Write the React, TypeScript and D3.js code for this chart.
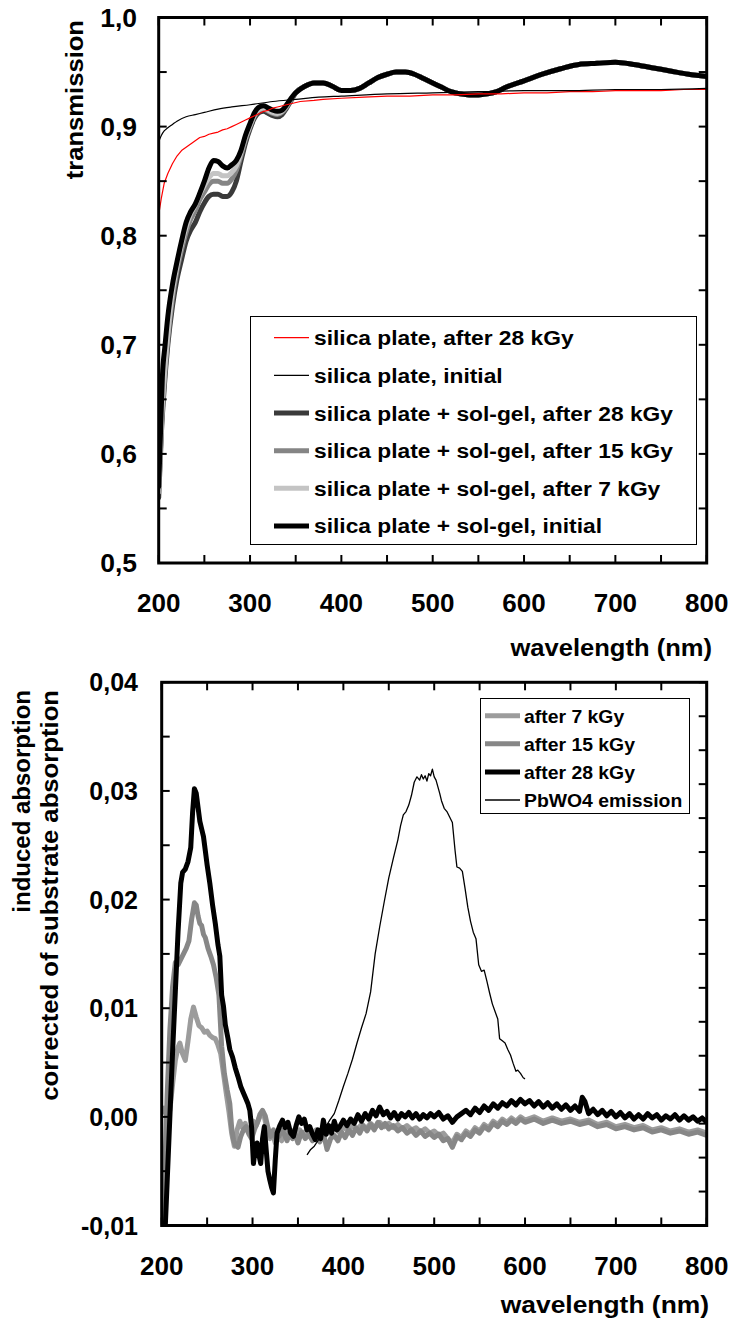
import React from 'react';
import * as d3 from 'd3';

// ---- top chart: transmission spectra (nm, transmission) ----
const silicaIrradiated: [number, number][] = [
  [200, 0.819], [203, 0.835], [206, 0.848], [210, 0.857], [215, 0.866], [220, 0.873], [225, 0.878],
  [230, 0.881], [235, 0.884], [240, 0.887], [245, 0.890], [250, 0.891], [255, 0.893], [260, 0.894],
  [265, 0.895], [270, 0.897], [275, 0.898], [280, 0.900], [285, 0.902], [290, 0.904], [295, 0.906],
  [300, 0.908], [305, 0.910], [310, 0.912], [315, 0.914], [320, 0.915], [325, 0.917], [330, 0.918],
  [340, 0.920], [355, 0.923], [370, 0.924], [380, 0.925], [400, 0.926], [425, 0.927], [450, 0.928],
  [475, 0.928], [500, 0.929], [525, 0.929], [550, 0.930], [575, 0.930], [600, 0.931], [625, 0.931],
  [650, 0.932], [675, 0.932], [700, 0.933], [725, 0.933], [750, 0.933], [775, 0.934], [800, 0.934],
];
const silicaInitial: [number, number][] = [
  [200, 0.886], [203, 0.892], [206, 0.896], [210, 0.899], [215, 0.902], [220, 0.905], [230, 0.909],
  [240, 0.911], [250, 0.913], [265, 0.916], [280, 0.918], [300, 0.920], [325, 0.923], [350, 0.925],
  [375, 0.927], [400, 0.928], [450, 0.930], [500, 0.931], [550, 0.932], [600, 0.933], [650, 0.933],
  [700, 0.934], [750, 0.934], [800, 0.935],
];
// coated plates, UV part (they differ below ~350 nm)
const coatedInitialUV: [number, number][] = [
  [200, 0.57], [202, 0.62], [204, 0.67], [207, 0.70], [210, 0.726], [215, 0.755], [220, 0.776],
  [225, 0.795], [230, 0.812], [235, 0.822], [240, 0.829], [245, 0.839], [250, 0.850], [255, 0.862],
  [260, 0.869], [265, 0.868], [270, 0.864], [275, 0.862], [280, 0.865], [285, 0.869], [290, 0.878],
  [295, 0.892], [300, 0.903], [305, 0.913], [310, 0.918], [315, 0.919], [320, 0.917], [325, 0.915],
  [330, 0.914], [335, 0.915], [340, 0.920], [345, 0.926],
];
const coated7UV: [number, number][] = [
  [200, 0.565], [203, 0.63], [206, 0.67], [210, 0.71], [215, 0.748], [220, 0.772], [225, 0.792],
  [230, 0.808], [235, 0.820], [240, 0.828], [245, 0.838], [250, 0.846], [255, 0.853], [260, 0.857],
  [265, 0.857], [270, 0.855], [275, 0.855], [280, 0.858], [285, 0.864], [290, 0.876], [295, 0.890],
  [300, 0.901], [305, 0.911], [310, 0.916], [315, 0.917], [320, 0.915], [325, 0.913], [330, 0.912],
  [335, 0.914], [340, 0.919], [345, 0.926],
];
const coated15UV: [number, number][] = [
  [200, 0.565], [203, 0.625], [206, 0.665], [210, 0.705], [215, 0.742], [220, 0.768], [225, 0.787],
  [230, 0.803], [235, 0.815], [240, 0.823], [245, 0.833], [250, 0.840], [255, 0.847], [260, 0.850],
  [265, 0.850], [270, 0.848], [275, 0.848], [280, 0.852], [285, 0.860], [290, 0.873], [295, 0.888],
  [300, 0.900], [305, 0.910], [310, 0.915], [315, 0.916], [320, 0.914], [325, 0.912], [330, 0.911],
  [335, 0.913], [340, 0.918], [345, 0.925],
];
const coated28UV: [number, number][] = [
  [200, 0.56], [203, 0.62], [206, 0.66], [210, 0.70], [215, 0.735], [220, 0.760], [225, 0.778],
  [230, 0.795], [235, 0.805], [240, 0.812], [245, 0.822], [250, 0.830], [255, 0.836], [260, 0.838],
  [265, 0.838], [270, 0.836], [275, 0.836], [280, 0.840], [285, 0.850], [290, 0.868], [295, 0.885],
  [300, 0.898], [305, 0.908], [310, 0.913], [315, 0.914], [320, 0.912], [325, 0.910], [330, 0.909],
  [335, 0.911], [340, 0.917], [345, 0.924],
];
// all four coated curves overlap above 350 nm
const coatedVisible: [number, number][] = [
  [350, 0.931], [360, 0.937], [370, 0.940], [380, 0.940], [390, 0.937], [400, 0.933], [410, 0.933],
  [420, 0.935], [430, 0.940], [440, 0.945], [450, 0.948], [460, 0.950], [470, 0.950], [480, 0.948],
  [490, 0.944], [500, 0.940], [510, 0.936], [520, 0.932], [530, 0.930], [540, 0.929], [550, 0.929],
  [560, 0.930], [570, 0.932], [580, 0.936], [600, 0.942], [620, 0.948], [640, 0.953], [660, 0.957],
  [680, 0.958], [700, 0.959], [720, 0.957], [740, 0.954], [760, 0.951], [780, 0.948], [800, 0.946],
];

const topLegend = [
  'silica plate, after 28 kGy',
  'silica plate, initial',
  'silica plate + sol-gel, after 28 kGy',
  'silica plate + sol-gel, after 15 kGy',
  'silica plate + sol-gel, after 7 kGy',
  'silica plate + sol-gel, initial',
];

// ---- bottom chart: induced absorption (nm, absorbance) ----
const after7: [number, number][] = [
  [200, 0.0003], [203, 0.0008], [206, 0.0], [209, 0.0006], [212, 0.003], [215, 0.0052], [218, 0.0064],
  [220, 0.0068], [223, 0.0058], [226, 0.0052], [229, 0.007], [232, 0.009], [235, 0.0101], [238, 0.0092],
  [241, 0.0084], [244, 0.0082], [247, 0.0078], [250, 0.0079], [253, 0.0075], [256, 0.0073], [259, 0.0072],
  [262, 0.0066], [265, 0.0058], [268, 0.004], [271, 0.0022], [274, 0.0005], [277, -0.0015], [280, -0.0027],
  [283, -0.0012], [286, -0.0004], [289, -0.001], [292, -0.0006], [295, -0.0014], [298, -0.001],
  [301, -0.0004], [304, -0.0008], [307, -0.0002], [310, 0.0004], [313, 0.0], [316, -0.0012], [319, -0.002],
  [322, -0.0015], [325, -0.0024], [328, -0.0018], [332, -0.0022], [336, -0.0014], [340, -0.0019],
  [344, -0.0013], [348, -0.0018], [352, -0.0012], [356, -0.0017], [360, -0.0011], [365, -0.0016],
  [370, -0.0012], [375, -0.0017], [380, -0.0011], [385, -0.0015], [390, -0.001], [395, -0.0014],
  [400, -0.0009], [405, -0.0013], [410, -0.0008], [415, -0.0012], [420, -0.0007], [425, -0.0011],
  [430, -0.0006], [435, -0.001], [440, -0.0005], [445, -0.0009], [450, -0.0006], [455, -0.001],
  [460, -0.0007], [465, -0.0011], [470, -0.0008], [475, -0.0012], [480, -0.001], [485, -0.0014],
  [490, -0.0011], [495, -0.0015], [500, -0.0013], [505, -0.0017], [510, -0.0015], [515, -0.002],
  [520, -0.0024], [525, -0.0016], [530, -0.0019], [535, -0.0013], [540, -0.0016], [545, -0.001],
  [550, -0.0013], [555, -0.0007], [560, -0.001], [565, -0.0004], [570, -0.0007], [575, -0.0002],
  [580, -0.0005], [585, -0.0001], [590, -0.0004], [595, 0.0], [600, -0.0003], [610, 0.0], [620, -0.0004],
  [630, -0.0001], [640, -0.0004], [650, -0.0002], [660, -0.0005], [670, -0.0003], [680, -0.0007],
  [690, -0.0005], [700, -0.0009], [710, -0.0007], [720, -0.001], [730, -0.0008], [740, -0.0012],
  [750, -0.001], [760, -0.0013], [770, -0.0011], [780, -0.0014], [790, -0.0012], [800, -0.0015],
];
const after15: [number, number][] = [
  [200, -0.013], [203, -0.006], [206, 0.002], [209, 0.008], [212, 0.012], [215, 0.0142], [218, 0.014],
  [221, 0.0145], [224, 0.015], [227, 0.0155], [230, 0.0162], [233, 0.0182], [236, 0.0197], [238, 0.0195],
  [240, 0.0185], [242, 0.0178], [244, 0.0176], [246, 0.0168], [248, 0.0165], [251, 0.0155], [254, 0.0148],
  [257, 0.014], [260, 0.0128], [263, 0.0112], [266, 0.0065], [269, 0.004], [272, 0.0025], [275, 0.0012],
  [277, -0.001], [279, -0.0021], [281, -0.0026], [284, -0.0028], [287, -0.0018], [290, -0.0012],
  [293, -0.0009], [296, -0.0016], [299, -0.002], [302, -0.0012], [305, -0.0006], [308, 0.0002],
  [311, 0.0006], [314, 0.0001], [317, -0.001], [320, -0.0018], [323, -0.0012], [326, -0.002],
  [329, -0.0018], [332, -0.0012], [335, -0.0016], [338, -0.0022], [341, -0.0014], [344, -0.002],
  [347, -0.0016], [350, -0.0024], [354, -0.0014], [358, -0.002], [362, -0.0016], [366, -0.0022],
  [370, -0.0018], [374, -0.0023], [378, -0.0015], [382, -0.003], [386, -0.002], [390, -0.0017],
  [394, -0.0022], [398, -0.0014], [402, -0.0019], [406, -0.0012], [410, -0.0017], [414, -0.001],
  [418, -0.0015], [422, -0.0008], [426, -0.0013], [430, -0.0007], [434, -0.0012], [438, -0.0005],
  [442, -0.001], [446, -0.0006], [450, -0.0011], [455, -0.0008], [460, -0.0013], [465, -0.001],
  [470, -0.0015], [475, -0.0012], [480, -0.0017], [485, -0.0013], [490, -0.0018], [495, -0.0015],
  [500, -0.0019], [505, -0.0016], [510, -0.0022], [515, -0.002], [520, -0.0028], [525, -0.0018],
  [530, -0.0021], [535, -0.0015], [540, -0.0018], [545, -0.0012], [550, -0.0015], [555, -0.0009],
  [560, -0.0012], [565, -0.0006], [570, -0.0009], [575, -0.0004], [580, -0.0007], [585, -0.0003],
  [590, -0.0006], [595, -0.0002], [600, -0.0005], [610, -0.0002], [620, -0.0006], [630, -0.0003],
  [640, -0.0006], [650, -0.0004], [660, -0.0007], [670, -0.0005], [680, -0.0009], [690, -0.0007],
  [700, -0.0011], [710, -0.0009], [720, -0.0012], [730, -0.001], [740, -0.0014], [750, -0.0012],
  [760, -0.0015], [770, -0.0013], [780, -0.0016], [790, -0.0014], [800, -0.0017],
];
const after28: [number, number][] = [
  [200, -0.0125], [204, -0.01], [208, -0.002], [212, 0.006], [215, 0.0115], [218, 0.017], [221, 0.0215],
  [223, 0.0225], [226, 0.0228], [229, 0.0235], [232, 0.0248], [234, 0.028], [236, 0.0302], [238, 0.0298],
  [240, 0.0285], [242, 0.0272], [244, 0.0265], [246, 0.0258], [248, 0.0245], [250, 0.0232], [253, 0.0215],
  [256, 0.0195], [259, 0.0178], [262, 0.0158], [264, 0.0148], [266, 0.0112], [268, 0.0102], [270, 0.0085],
  [273, 0.0072], [275, 0.0062], [278, 0.0055], [281, 0.0045], [284, 0.0037], [287, 0.0028], [290, 0.0022],
  [292, 0.0018], [295, 0.0012], [297, 0.0006], [299, -0.001], [301, -0.0043], [303, -0.003],
  [305, -0.0024], [307, -0.0035], [309, -0.0043], [311, -0.002], [313, -0.0009], [315, -0.003],
  [317, -0.005], [319, -0.0058], [321, -0.0065], [323, -0.007], [325, -0.004], [327, -0.0015],
  [330, -0.0008], [333, -0.0003], [336, -0.001], [339, -0.0005], [342, -0.0015], [345, -0.0018],
  [348, -0.0008], [351, 0.0], [354, -0.0006], [357, -0.0002], [360, -0.0012], [363, -0.0009],
  [366, -0.0016], [369, -0.0021], [372, -0.0012], [375, -0.002], [378, -0.0003], [381, -0.0016],
  [384, -0.0008], [387, -0.0015], [390, -0.0004], [393, -0.0012], [396, -0.0009], [400, -0.0003],
  [404, -0.0008], [408, -0.0002], [412, -0.0006], [416, 0.0002], [420, -0.0004], [424, 0.0003],
  [428, -0.0002], [432, 0.0006], [436, 0.0001], [440, 0.0009], [444, 0.0002], [448, 0.0005],
  [452, -0.0001], [456, 0.0004], [460, -0.0002], [464, 0.0003], [468, 0.0], [472, 0.0004],
  [476, -0.0001], [480, 0.0003], [484, -0.0002], [488, 0.0002], [492, -0.0001], [496, 0.0003],
  [500, 0.0], [505, 0.0004], [510, -0.0002], [515, 0.0001], [520, -0.0005], [525, 0.0], [530, 0.0003],
  [535, 0.0006], [540, 0.0002], [545, 0.0008], [550, 0.0004], [555, 0.001], [560, 0.0006], [565, 0.0012],
  [570, 0.0008], [575, 0.0013], [580, 0.001], [585, 0.0015], [590, 0.0011], [595, 0.0016], [600, 0.0012],
  [605, 0.0015], [610, 0.001], [615, 0.0014], [620, 0.0009], [625, 0.0013], [630, 0.0008], [635, 0.0012],
  [640, 0.0007], [645, 0.0011], [650, 0.0006], [655, 0.001], [660, 0.0005], [663, 0.0018], [666, 0.0014],
  [670, 0.0003], [675, 0.0007], [680, 0.0002], [685, 0.0006], [690, 0.0001], [695, 0.0005], [700, 0.0],
  [705, 0.0004], [710, -0.0001], [715, 0.0003], [720, -0.0002], [725, 0.0002], [730, -0.0002],
  [735, 0.0003], [740, -0.0001], [745, 0.0002], [750, -0.0003], [755, 0.0001], [760, -0.0002],
  [765, 0.0002], [770, -0.0003], [775, 0.0001], [780, -0.0003], [785, 0.0], [790, -0.0004],
  [795, -0.0001], [800, -0.0005],
];
const pbwo4Emission: [number, number][] = [
  [360, -0.0035], [364, -0.003], [368, -0.0027], [372, -0.0022], [376, -0.0016], [380, -0.001],
  [385, -0.0003], [390, 0.0003], [395, 0.0015], [400, 0.0028], [405, 0.004], [410, 0.0053], [415, 0.0068],
  [420, 0.0082], [425, 0.0095], [430, 0.0115], [435, 0.015], [440, 0.0175], [445, 0.0198], [450, 0.022],
  [455, 0.0238], [460, 0.0255], [463, 0.0268], [466, 0.0278], [469, 0.0281], [472, 0.0287], [475, 0.0296],
  [478, 0.0308], [481, 0.0313], [484, 0.031], [486, 0.0315], [488, 0.0311], [490, 0.0314], [492, 0.0309],
  [494, 0.0316], [496, 0.0314], [498, 0.032], [500, 0.0313], [502, 0.031], [504, 0.0304], [506, 0.0298],
  [508, 0.0291], [511, 0.0284], [514, 0.0281], [517, 0.0276], [520, 0.0271], [523, 0.0245], [525, 0.023],
  [528, 0.0229], [531, 0.0226], [534, 0.021], [537, 0.0193], [540, 0.018], [543, 0.017], [546, 0.0164],
  [549, 0.014], [552, 0.0134], [555, 0.0135], [558, 0.0125], [561, 0.0114], [564, 0.0104], [567, 0.0097],
  [570, 0.009], [572, 0.0072], [575, 0.007], [578, 0.0068], [581, 0.0062], [584, 0.0057], [587, 0.0049],
  [590, 0.0042], [592, 0.0043], [595, 0.004], [598, 0.0036], [600, 0.0035],
];
const bottomLegend = ['after 7 kGy', 'after 15 kGy', 'after 28 kGy', 'PbWO4 emission'];

const FONT = 'Arial, "Liberation Sans", sans-serif';
const comma = (f: string) => (v: number) => d3.format(f)(v).replace('.', ',').replace('\u2212', '-');

type Scale = d3.ScaleLinear<number, number>;

// bold label, optionally rotated, stretched a bit along the text direction (source font runs wide)
function Label({ x, y, size, sx = 1, rotate = 0, anchor = 'start', children }: {
  x: number; y: number; size: number; sx?: number; rotate?: number; anchor?: string; children: React.ReactNode;
}) {
  return (
    <text
      transform={`translate(${x},${y}) rotate(${rotate}) scale(${sx},1)`}
      textAnchor={anchor}
      fontSize={size}
      fontWeight="bold"
      fontFamily={FONT}
    >
      {children}
    </text>
  );
}

function Frame({ x, y, yLabelFmt, rightTicks, labelX, ySx }: {
  x: Scale; y: Scale; yLabelFmt: (v: number) => string; rightTicks: number[]; labelX: number; ySx: number;
}) {
  const [x0, x1] = x.range();
  const [y0, y1] = y.range(); // y0 bottom, y1 top
  const tl = 8;
  return (
    <g>
      {x.ticks(12).map((t) => (
        <g key={'xt' + t} stroke="#000" strokeWidth={2}>
          <line x1={x(t)} x2={x(t)} y1={y1} y2={y1 + tl} />
          <line x1={x(t)} x2={x(t)} y1={y0} y2={y0 - tl} />
        </g>
      ))}
      {y.ticks(10).map((t) => (
        <line key={'yt' + t} x1={x0} x2={x0 + tl} y1={y(t)} y2={y(t)} stroke="#000" strokeWidth={2} />
      ))}
      {rightTicks.map((py, i) => (
        <line key={'rt' + i} x1={x1} x2={x1 - tl} y1={py} y2={py} stroke="#000" strokeWidth={2} />
      ))}
      <rect x={x0} y={y1} width={x1 - x0} height={y0 - y1} fill="none" stroke="#000" strokeWidth={3} />
      {x.ticks(6).map((t) => (
        <Label key={'xl' + t} x={x(t)} y={y0 + 49} size={25} sx={1.04} anchor="middle">
          {t}
        </Label>
      ))}
      {y.ticks(5).map((t) => (
        <Label key={'yl' + t} x={labelX} y={y(t) + 9} size={25} sx={ySx} anchor="end">
          {yLabelFmt(t)}
        </Label>
      ))}
    </g>
  );
}

export default function App() {
  // top panel
  const xT = d3.scaleLinear().domain([200, 800]).range([158.7, 706.7]);
  const yT = d3.scaleLinear().domain([0.5, 1.0]).range([563, 17.5]);
  const smooth = d3.line<[number, number]>().x((d) => xT(d[0])).y((d) => yT(d[1])).curve(d3.curveMonotoneX);
  const straightT = d3.line<[number, number]>().x((d) => xT(d[0])).y((d) => yT(d[1]));

  const coated = [
    { name: topLegend[2], data: coated28UV.concat(coatedVisible), color: '#3a3a3a' },
    { name: topLegend[3], data: coated15UV.concat(coatedVisible), color: '#858585' },
    { name: topLegend[4], data: coated7UV.concat(coatedVisible), color: '#c4c4c4' },
    { name: topLegend[5], data: coatedInitialUV.concat(coatedVisible), color: '#000' },
  ];
  const topKeys = [
    { color: '#ff0000', w: 1.2 },
    { color: '#000', w: 1.2 },
    { color: '#3a3a3a', w: 5 },
    { color: '#858585', w: 5 },
    { color: '#c4c4c4', w: 5 },
    { color: '#000', w: 5 },
  ];

  // bottom panel
  const xB = d3.scaleLinear().domain([200, 800]).range([161.7, 706.7]);
  const yB = d3.scaleLinear().domain([-0.01, 0.04]).range([1225.5, 682.3]);
  const rightB = d3.scaleLinear().domain([0, 16]).range([1225.5, 682.3]);
  const lineB = d3.line<[number, number]>().x((d) => xB(d[0])).y((d) => yB(d[1]));
  const absSeries = [
    { data: after7, color: '#9c9c9c', w: 5 },
    { data: after15, color: '#878787', w: 5 },
    { data: after28, color: '#000', w: 5 },
    { data: pbwo4Emission, color: '#000', w: 1.3 },
  ];

  return (
    <svg width={731} height={1323} style={{ position: 'absolute', left: 0, top: 0, background: '#fff' }}>
      <defs>
        <clipPath id="clipTop">
          <rect x={158.7} y={17.5} width={548} height={545.5} />
        </clipPath>
        <clipPath id="clipBottom">
          <rect x={161.7} y={682.3} width={545} height={543.2} />
        </clipPath>
      </defs>

      {/* ---------- top chart ---------- */}
      <g clipPath="url(#clipTop)" fill="none" strokeLinejoin="round" strokeLinecap="round">
        {coated.map((s) => (
          <path key={s.name} d={smooth(s.data) || ''} stroke={s.color} strokeWidth={5} />
        ))}
        <path d={straightT(silicaIrradiated) || ''} stroke="#ff0000" strokeWidth={1.2} />
        <path d={smooth(silicaInitial) || ''} stroke="#000" strokeWidth={1.2} />
      </g>
      <Frame x={xT} y={yT} yLabelFmt={comma('.1f')} rightTicks={yT.ticks(10).map((t) => yT(t))} labelX={137} ySx={1.06} />
      <Label x={83} y={20} size={24} sx={1.067} rotate={-90} anchor="end">transmission</Label>
      <Label x={712} y={656} size={24} sx={1.065} anchor="end">wavelength (nm)</Label>
      <rect x={250.5} y={316.5} width={446} height={228} fill="#fff" stroke="#000" strokeWidth={1} />
      {topLegend.map((name, i) => {
        const cy = 337.7 + i * 37.65;
        return (
          <g key={name}>
            <line x1={274} x2={309} y1={cy} y2={cy} stroke={topKeys[i].color} strokeWidth={topKeys[i].w} />
            <Label x={314} y={cy + 7.5} size={21} sx={1.085}>{name}</Label>
          </g>
        );
      })}

      {/* ---------- bottom chart ---------- */}
      <g clipPath="url(#clipBottom)" fill="none" strokeLinejoin="round">
        {absSeries.map((s, i) => (
          <path key={i} d={lineB(s.data) || ''} stroke={s.color} strokeWidth={s.w} />
        ))}
      </g>
      <Frame x={xB} y={yB} yLabelFmt={comma('.2f')} rightTicks={rightB.ticks(16).map((t) => rightB(t))} labelX={138} ySx={1} />
      <Label x={30} y={690} size={24} rotate={-90} anchor="end">induced absorption</Label>
      <Label x={58} y={690} size={24} sx={1.07} rotate={-90} anchor="end">corrected of substrate absorption</Label>
      <Label x={709} y={1313} size={24} sx={1.1} anchor="end">wavelength (nm)</Label>
      <rect x={480.5} y={698.5} width={209} height={115} fill="#fff" stroke="#000" strokeWidth={1} />
      {bottomLegend.map((name, i) => {
        const cy = 715.7 + i * 28.1;
        const s = absSeries[i];
        return (
          <g key={name}>
            <line x1={485} x2={520} y1={cy} y2={cy} stroke={s.color} strokeWidth={s.w} />
            <Label x={524} y={cy + 7} size={19} sx={1.02}>{name}</Label>
          </g>
        );
      })}
    </svg>
  );
}
